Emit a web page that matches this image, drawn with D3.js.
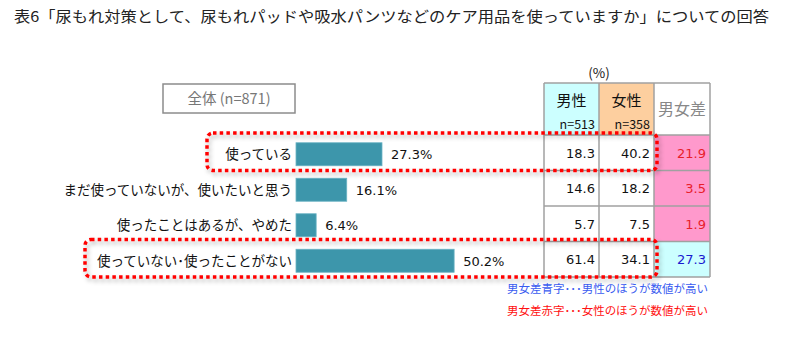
<!DOCTYPE html>
<html><head><meta charset="utf-8">
<script src="https://cdn.jsdelivr.net/npm/d3@7"></script>
<style>
html,body{margin:0;padding:0;background:#fff;}
svg{display:block;font-family:"Noto Sans CJK JP","Noto Sans",sans-serif;}
.num{font-family:"DejaVu Sans","Noto Sans",sans-serif;}
</style></head>
<body>
<script>
const title = "表6「尿もれ対策として、尿もれパッドや吸水パンツなどのケア用品を使っていますか」についての回答";
const categories = ["使っている","まだ使っていないが、使いたいと思う","使ったことはあるが、やめた","使っていない･使ったことがない"];
const totalValues = [27.3, 16.1, 6.4, 50.2];
const maleValues = [18.3, 14.6, 5.7, 61.4];
const femaleValues = [40.2, 18.2, 7.5, 34.1];
const diffValues = [21.9, 3.5, 1.9, 27.3];
const diffHigher = ["female","female","female","male"];
const highlighted = [0, 3];
const totalLabel = "全体 (n=871)";
const headers = [{name:"男性", n:"n=513"}, {name:"女性", n:"n=358"}];
const diffHeader = "男女差";
const unitLabel = "(%)";
const notes = [
  {text:"男女差青字･･･男性のほうが数値が高い", color:"#3a5cf0"},
  {text:"男女差赤字･･･女性のほうが数値が高い", color:"#ff1010"}
];

const W = 810, H = 348;
const svg = d3.select("body").append("svg").attr("width", W).attr("height", H);

const defs = svg.append("defs");
const f = defs.append("filter").attr("id","shadow").attr("x","-10%").attr("y","-30%").attr("width","120%").attr("height","170%");
f.append("feDropShadow").attr("dx",2).attr("dy",3).attr("stdDeviation",2).attr("flood-color","#000").attr("flood-opacity",0.3);

// title
svg.append("text").attr("x",14).attr("y",22).attr("font-size",15).attr("fill","#222")
  .attr("textLength",755).attr("lengthAdjust","spacingAndGlyphs").text(title);

// scales
const y = d3.scaleBand().domain(categories).range([135, 277]).padding(0);
const x = d3.scaleLinear().domain([0, 100]).range([296, 296 + 315]);
const barH = 23;

// total box
svg.append("rect").attr("x",163).attr("y",84).attr("width",132).attr("height",29)
  .attr("fill","#fff").attr("stroke","#8c8c8c").attr("stroke-width",1.5);
svg.append("text").attr("x",229).attr("y",104).attr("text-anchor","middle")
  .attr("font-size",14.5).attr("fill","#777").text(totalLabel);

// table
const cols = [544, 599, 654, 710];
const headTop = 83, headBot = 135;
svg.append("text").attr("x",599).attr("y",78).attr("text-anchor","middle").attr("font-size",13.5).attr("fill","#222").text(unitLabel);
const headFills = ["#ccffff","#fdcf9f"];
headers.forEach((h,i)=>{
  svg.append("rect").attr("x",cols[i]).attr("y",headTop).attr("width",cols[i+1]-cols[i]).attr("height",headBot-headTop).attr("fill",headFills[i]);
  svg.append("text").attr("x",(cols[i]+cols[i+1])/2).attr("y",106).attr("text-anchor","middle").attr("font-size",15).attr("fill","#111").text(h.name);
  svg.append("text").attr("x",cols[i+1]-4).attr("y",129).attr("text-anchor","end").attr("font-size",12.5).attr("fill","#111").text(h.n);
});
svg.append("text").attr("x",(cols[2]+cols[3])/2).attr("y",115).attr("text-anchor","middle").attr("font-size",16).attr("fill","#888").text(diffHeader);

categories.forEach((c,i)=>{
  const top = y(c), bh = y.bandwidth();
  const fill = diffHigher[i]==="female" ? "#ff99cc" : "#ccffff";
  svg.append("rect").attr("x",cols[2]).attr("y",top).attr("width",cols[3]-cols[2]).attr("height",bh).attr("fill",fill);
  const cy = top + bh/2 + 5;
  svg.append("text").attr("class","num").attr("x",cols[1]-4).attr("y",cy).attr("text-anchor","end").attr("font-size",13).attr("fill","#111").text(maleValues[i].toFixed(1));
  svg.append("text").attr("class","num").attr("x",cols[2]-4).attr("y",cy).attr("text-anchor","end").attr("font-size",13).attr("fill","#111").text(femaleValues[i].toFixed(1));
  svg.append("text").attr("class","num").attr("x",cols[3]-4).attr("y",cy).attr("text-anchor","end").attr("font-size",13)
    .attr("fill", diffHigher[i]==="female" ? "#e8202a" : "#1a1ad0").text(diffValues[i].toFixed(1));
});

// grid lines
const gridColor = "#a0a0a0";
const tableBottom = y.range()[1];
cols.forEach(cx=>{
  svg.append("line").attr("x1",cx).attr("x2",cx).attr("y1",headTop).attr("y2",tableBottom).attr("stroke",gridColor).attr("stroke-width",1.5);
});
[headTop, ...categories.map(c=>y(c)), tableBottom].forEach(ly=>{
  svg.append("line").attr("x1",cols[0]).attr("x2",cols[3]).attr("y1",ly).attr("y2",ly).attr("stroke",gridColor).attr("stroke-width",1.5);
});

// bars
categories.forEach((c,i)=>{
  const cyc = y(c) + y.bandwidth()/2 + 1.5;
  svg.append("rect").attr("x",x(0)).attr("y",cyc-barH/2).attr("width",x(totalValues[i])-x(0)).attr("height",barH)
    .attr("fill","#3d96ab").attr("stroke","#6bb3c4").attr("stroke-width",0.8);
  svg.append("text").attr("class","num").attr("x",x(totalValues[i])+9).attr("y",cyc+5).attr("font-size",13).attr("fill","#111").text(totalValues[i].toFixed(1)+"%");
  svg.append("text").attr("x",292).attr("y",cyc+5).attr("text-anchor","end").attr("font-size",13.5).attr("fill","#111").text(c);
});

// highlight boxes
const boxLeft = {0:207, 3:85};
highlighted.forEach(i=>{
  const c = categories[i];
  const top = y(c) - 2, bot = y(c) + y.bandwidth();
  svg.append("rect").attr("x",boxLeft[i]).attr("y",top).attr("width",657-boxLeft[i]).attr("height",bot-top)
    .attr("rx",6).attr("ry",6).attr("fill","none").attr("stroke","#ff0000").attr("stroke-width",3.5)
    .attr("stroke-dasharray","3.5,3.2").attr("filter","url(#shadow)");
});

// notes
notes.forEach((n,i)=>{
  svg.append("text").attr("x",507).attr("y",293 + i*22).attr("font-size",11.5).attr("fill",n.color)
    .attr("textLength",201).attr("lengthAdjust","spacingAndGlyphs").text(n.text);
});
</script>
</body></html>
